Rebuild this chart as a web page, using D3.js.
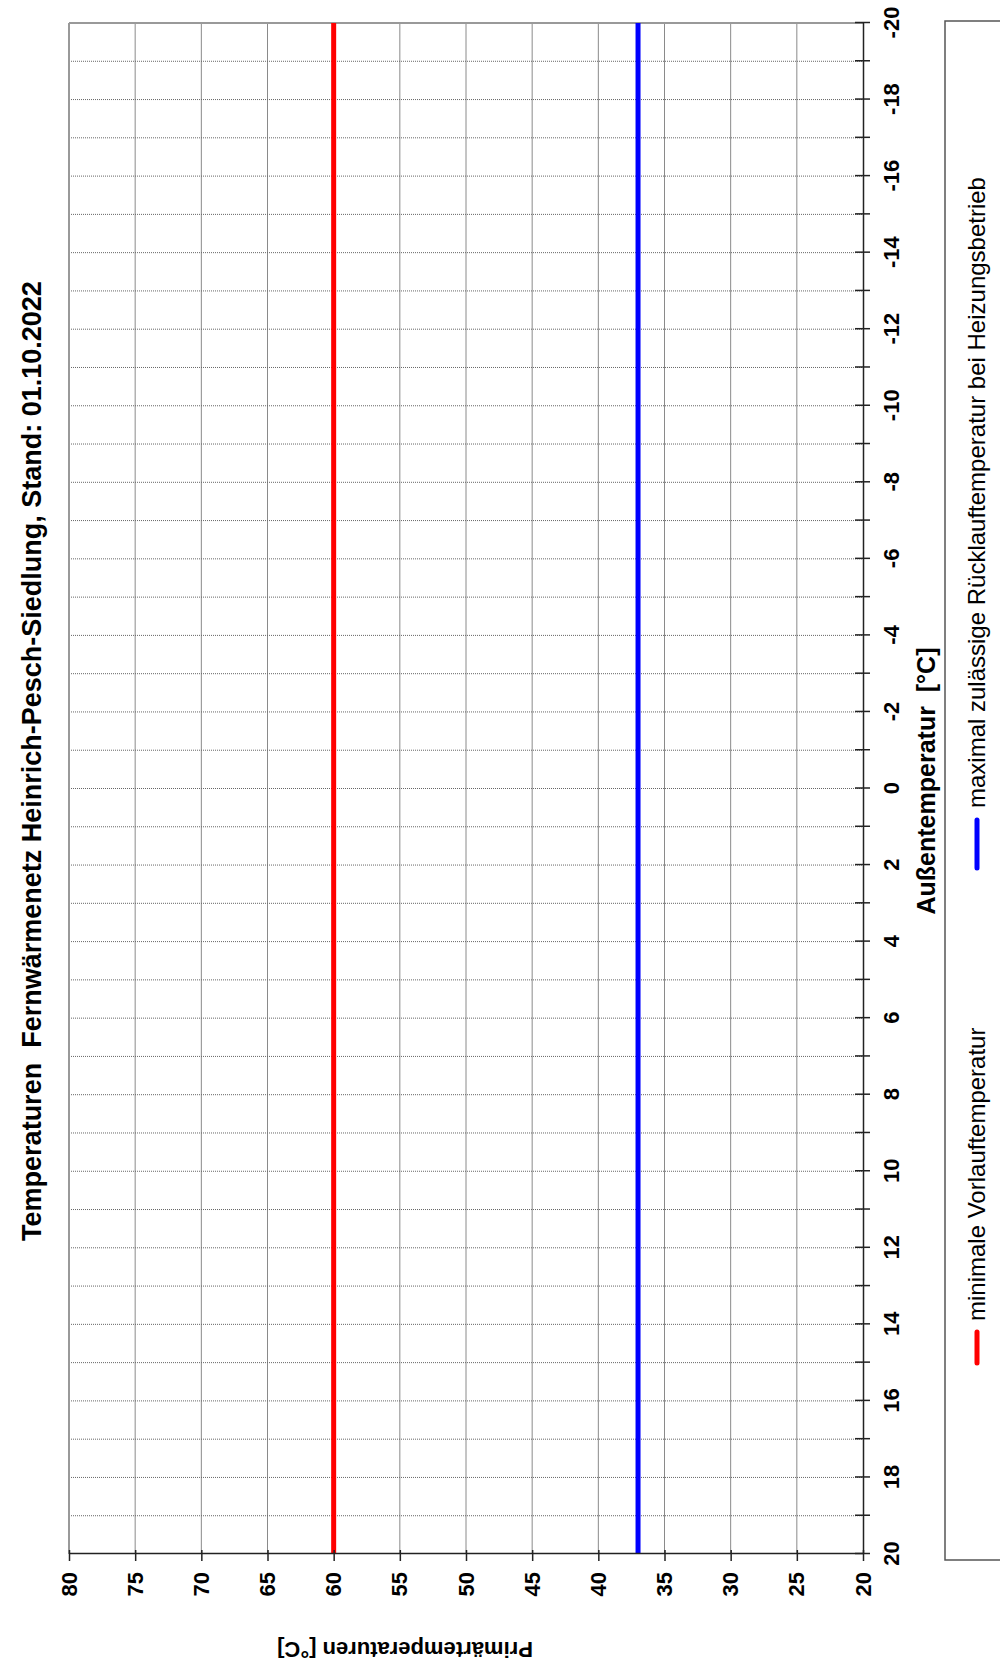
<!DOCTYPE html>
<html><head><meta charset="utf-8">
<script src="https://cdn.jsdelivr.net/npm/d3@7"></script>
<style>body{margin:0;background:#fff}svg{display:block}text{font-family:"Liberation Sans",Arial,sans-serif}</style>
</head><body>
<svg id="c" width="1000" height="1667"></svg>
<script>
// Data
const titleText = "Temperaturen  Fernwärmenetz Heinrich-Pesch-Siedlung, Stand: 01.10.2022";
const xTitle = "Außentemperatur  [°C]";
const yTitle = "Primärtemperaturen [°C]";
const outdoorTemps = [20, -20];
const minVorlauf = [60, 60];
const maxRuecklauf = [37, 37];
const seriesNames = ["minimale Vorlauftemperatur", "maximal zulässige Rücklauftemperatur bei Heizungsbetrieb"];
const seriesColors = ["#ff0000", "#0000ff"];
const xTickValues = [20,19,18,17,16,15,14,13,12,11,10,9,8,7,6,5,4,3,2,1,0,-1,-2,-3,-4,-5,-6,-7,-8,-9,-10,-11,-12,-13,-14,-15,-16,-17,-18,-19,-20];
const xLabelValues = [20,18,16,14,12,10,8,6,4,2,0,-2,-4,-6,-8,-10,-12,-14,-16,-18,-20];
const yTickValues = [80,75,70,65,60,55,50,45,40,35,30,25,20];

const svg = d3.select("#c");
svg.append("rect").attr("width",1000).attr("height",1667).attr("fill","#fff");
// Chart drawn in landscape orientation, rotated 90° counter-clockwise
const g = svg.append("g").attr("transform","translate(0,1667) rotate(-90)");

const L = 113, R = 1644, T = 69, B = 863;
const x = d3.scaleLinear().domain([20,-20]).range([L,R]);
const y = d3.scaleLinear().domain([20,80]).range([B,T]);

// grid
g.append("g").selectAll("line").data(yTickValues.filter(v=>v>20&&v<80)).join("line")
  .attr("x1",L).attr("x2",R).attr("y1",d=>y(d)).attr("y2",d=>y(d))
  .attr("stroke","#8a8a8a").attr("stroke-width",1);
g.append("g").selectAll("line").data(xTickValues.filter(v=>v>-20&&v<20)).join("line")
  .attr("x1",d=>x(d)).attr("x2",d=>x(d)).attr("y1",T).attr("y2",B)
  .attr("stroke","#666").attr("stroke-width",1).attr("stroke-dasharray","1,1");

// border
g.append("line").attr("x1",L).attr("x2",R).attr("y1",T).attr("y2",T).attr("stroke","#999").attr("stroke-width",2);
g.append("line").attr("x1",R).attr("x2",R).attr("y1",T).attr("y2",B).attr("stroke","#999").attr("stroke-width",2);

// series
const line = d3.line().x(d=>x(d[0])).y(d=>y(d[1]));
[minVorlauf, maxRuecklauf].forEach((s,i)=>{
  g.append("path").datum(outdoorTemps.map((t,j)=>[t,s[j]]))
   .attr("d",line).attr("fill","none").attr("stroke",seriesColors[i]).attr("stroke-width",5);
});

// y axis
const ya = g.append("g").attr("transform",`translate(${L},0)`)
  .call(d3.axisLeft(y).tickValues(yTickValues).tickSize(7).tickSizeOuter(0).tickPadding(11).tickFormat(d=>String(d)));
ya.select(".domain").attr("stroke","#222").attr("stroke-width",1.5);
ya.selectAll(".tick line").attr("x1",4).attr("stroke","#222").attr("stroke-width",1.5);
ya.selectAll(".tick text").attr("font-size",22).attr("font-weight","bold").attr("fill","#000");

// x axis
const xa = g.append("g").attr("transform",`translate(0,${B})`)
  .call(d3.axisBottom(x).tickValues(xTickValues).tickSize(7).tickSizeOuter(0).tickPadding(13)
    .tickFormat(d=>xLabelValues.includes(d)?String(d):""));
xa.select(".domain").attr("stroke","#222").attr("stroke-width",1.5);
xa.selectAll(".tick line").attr("y1",-8).attr("stroke","#222").attr("stroke-width",1.5);
xa.selectAll(".tick text").attr("font-size",22).attr("font-weight","bold").attr("fill","#000");

// titles
g.append("text").attr("x",906).attr("y",32).attr("dy","0.35em").attr("text-anchor","middle")
  .attr("font-size",27).attr("font-weight","bold").attr("xml:space","preserve").text(titleText);
g.append("text").attr("x",886).attr("y",926).attr("dy","0.35em").attr("text-anchor","middle")
  .attr("font-size",25).attr("font-weight","bold").attr("xml:space","preserve").text(xTitle);
g.append("text").attr("transform","translate(17,405) rotate(-90)").attr("dy","0.35em").attr("text-anchor","middle")
  .attr("font-size",22).attr("font-weight","bold").text(yTitle);

// legend
g.append("rect").attr("x",107).attr("y",945).attr("width",1646-107).attr("height",80)
  .attr("fill","none").attr("stroke","#555").attr("stroke-width",1.5);
const legX = [[304,335,346],[799,847,859]];
seriesNames.forEach((n,i)=>{
  g.append("line").attr("x1",legX[i][0]).attr("x2",legX[i][1]).attr("y1",977).attr("y2",977)
   .attr("stroke",seriesColors[i]).attr("stroke-width",5).attr("stroke-linecap","round");
  g.append("text").attr("x",legX[i][2]).attr("y",977).attr("dy","0.35em").attr("font-size",24).text(n);
});
</script>
</body></html>
